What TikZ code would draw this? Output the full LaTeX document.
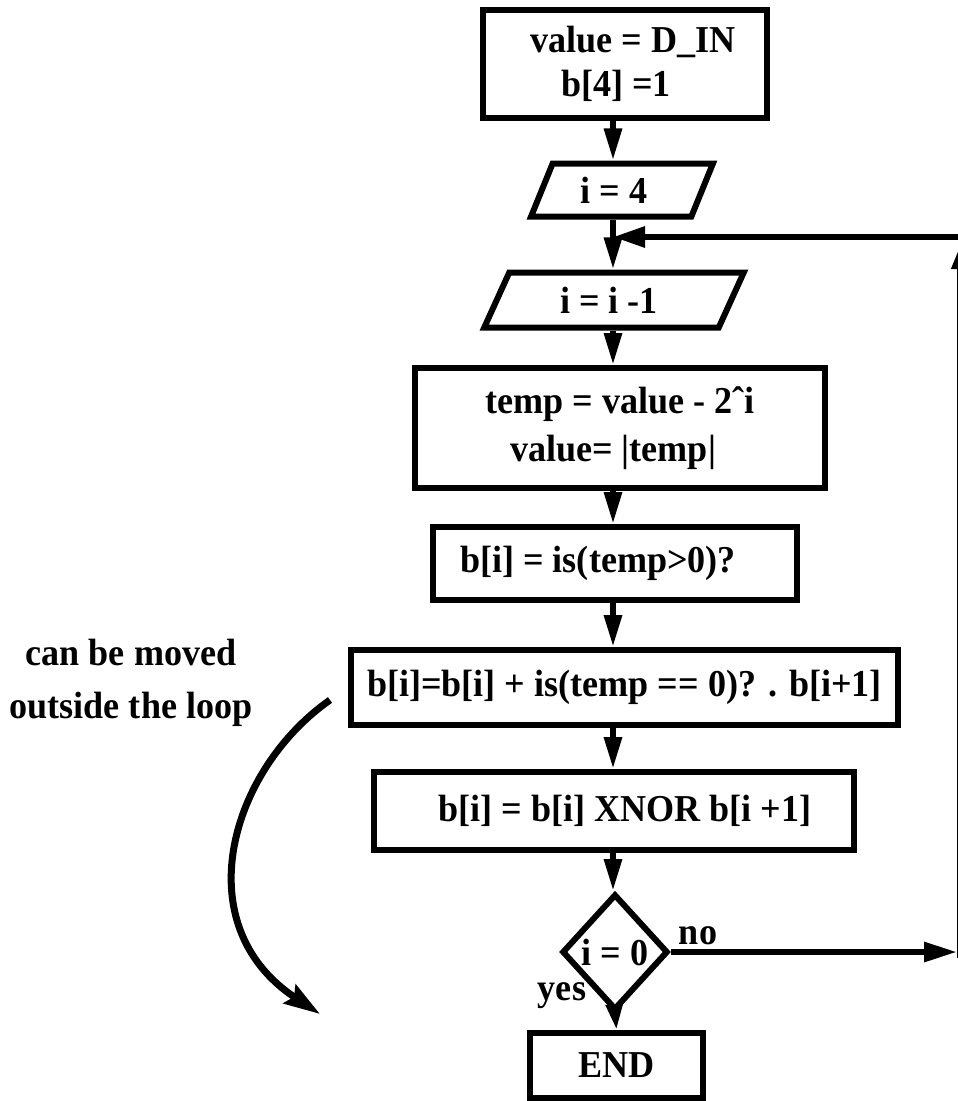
\documentclass[tikz,border=0pt]{standalone}
\usepackage{fontspec}
\setmainfont{Liberation Serif}[FakeStretch=0.95]
\usetikzlibrary{shapes.geometric,arrows.meta,calc}
\begin{document}
\begin{tikzpicture}[x=1pt,y=-1pt,
  every node/.style={font=\fontsize{38}{44}\selectfont\bfseries, inner sep=0pt},
  box/.style={draw, line width=6pt, align=center},
  para/.style={draw, line width=6pt, trapezium, trapezium left angle=64,
    trapezium right angle=116, trapezium stretches=true},
  decision/.style={draw, line width=6pt, diamond, aspect=0.9},
  conn/.style={line width=6pt, -{Triangle[length=32pt,width=17pt]}},
  loopline/.style={line width=6pt, -{Triangle[length=32pt,width=20pt]}},
  sideline/.style={line width=8pt, -{Triangle[length=26pt,width=18pt]}},
  noteline/.style={line width=7pt, -{Stealth[length=36pt,width=22pt,inset=5pt]}}]
\useasboundingbox (0,0) rectangle (958,1101);
\fill[white] (0,0) rectangle (958,1101);
\coordinate (axis) at (613,0);
% nodes
\node[box, minimum width=284pt, minimum height=108pt] (start) at (625,64) {\hspace*{16pt}value = D\_IN\\b[4] =1\hspace*{18pt}};
\node[para, minimum width=182pt, minimum height=53pt] (ifour) at (622,190) {i = 4\hspace*{16pt}};
\node[para, minimum width=260pt, minimum height=55pt] (idec) at (614,300) {i = i -1\hspace*{10pt}};
\node[box, minimum width=410pt, minimum height=120pt] (temp) at (620,428) {temp = value - 2ˆi\\[4pt]value= |temp|\hspace*{14pt}};
\node[box, minimum width=364pt, minimum height=73pt] (bis) at (615,563.5) {b[i] = is(temp>0)?\hspace*{34pt}};
\node[box, minimum width=547pt, minimum height=75pt] (bplus) at (624.5,687.5) {b[i]=b[i] + is(temp == 0)? . b[i+1]};
\node[box, minimum width=480pt, minimum height=78pt] (xnor) at (614,811) {\hspace*{22pt}b[i] = b[i] XNOR b[i +1]};
\node[decision, minimum width=106pt, minimum height=116pt] (dec) at (615,952) {i = 0};
\node[box, minimum width=173pt, minimum height=65pt] (end) at (616.5,1065.5) {END};
\node[align=center] (note) at (131,683) {can be moved\\[9pt]outside the loop};
\node (no) at (698,936) {no};
\node (yes) at (562,996) {yes};
% connectors
\draw[conn] (start.south -| axis) -- (ifour.north -| axis);
\draw[conn] (ifour.south -| axis) -- (idec.north -| axis);
\draw[conn] (idec.south -| axis) -- (temp.north -| axis);
\draw[conn] (temp.south -| axis) -- (bis.north -| axis);
\draw[conn] (bis.south -| axis) -- (bplus.north -| axis);
\draw[conn] (bplus.south -| axis) -- (xnor.north -| axis);
\draw[conn] (xnor.south -| axis) -- (dec.north -| axis);
\draw[line width=6pt, -{Triangle[length=26pt,width=16pt]}] (dec.south) -- (end.north);
% loop back
\coordinate (noend) at (957,0);
\draw[line width=6pt, -{Triangle[length=33pt,width=19pt]}] (dec.east) -- (dec.east -| noend);
\coordinate (rb) at (961,958);
\coordinate (rt) at (961,243);
\draw[sideline] (rb) -- (rt);
\coordinate (lt) at (962,237);
\draw[loopline] (lt) -- (lt -| axis);
% note arrow
\coordinate (cs) at (330,700);
\coordinate (ce) at (320,1014);
\draw[noteline] (cs) .. controls (230,770) and (185,925) .. (ce);
\end{tikzpicture}
\end{document}
